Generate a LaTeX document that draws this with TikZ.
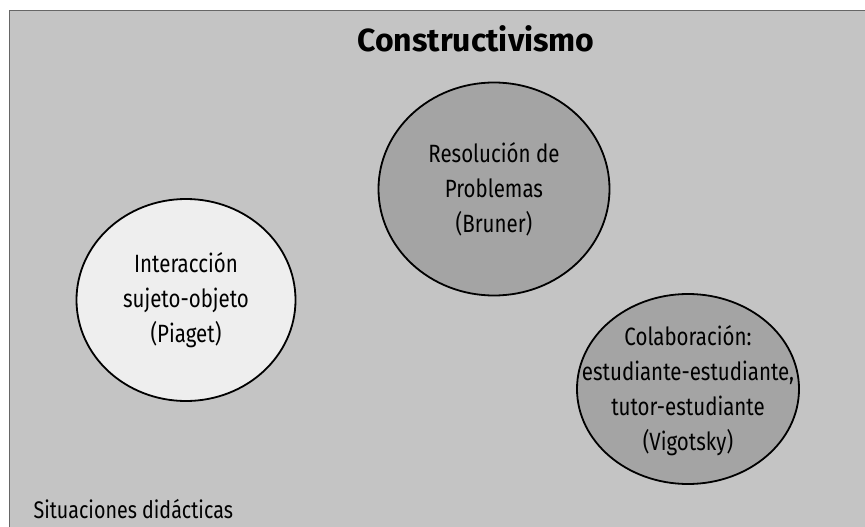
\documentclass[tikz,border=0pt]{standalone}
\usepackage{fontspec}
\setmainfont{Fira Sans}
\newfontfamily\condfont{Fira Sans}[FakeStretch=0.82]
\usetikzlibrary{shapes.geometric}
\definecolor{bgray}{HTML}{C4C4C4}
\definecolor{dgray}{HTML}{A4A4A4}
\definecolor{lgray}{HTML}{EEEEEE}
\tikzset{
  bubble/.style={ellipse, draw=black, line width=1.8pt, inner sep=0pt},
  bubbletext/.style={align=center, inner sep=0pt, font=\condfont\fontsize{25}{35}\selectfont},
}
\begin{document}
\begin{tikzpicture}[x=1pt,y=-1pt]
\useasboundingbox (0,0) rectangle (865,527);
\fill[white] (0,0) rectangle (865,527);
\fill[bgray] (9,10) rectangle (865,527);
\draw[black!60, line width=0.6pt] (9.3,527) -- (9.3,10.3) -- (865,10.3);
\node (title) at (476,39) {\fontsize{32}{36}\selectfont\bfseries Constructivismo};
\node[bubble, fill=dgray, minimum width=231pt, minimum height=213pt] (bruner) at (494,189) {};
\node[bubbletext] (brunertext) at (bruner.center) {Resolución de\\Problemas\\(Bruner)};
\node[bubble, fill=lgray, minimum width=219pt, minimum height=202pt] (piaget) at (186,300) {};
\node[bubbletext] (piagettext) at (piaget.center) {Interacción\\sujeto-objeto\\(Piaget)};
\node[bubble, fill=dgray, minimum width=222pt, minimum height=190pt] (vig) at (688,389) {};
\node[bubbletext] (vigtext) at ([yshift=-2pt]vig.center) {Colaboración:\\estudiante-estudiante,\\tutor-estudiante\\(Vigotsky)};
\node[anchor=west, font=\condfont\fontsize{24}{28}\selectfont] (sit) at (30,509) {Situaciones didácticas};
\end{tikzpicture}
\end{document}
